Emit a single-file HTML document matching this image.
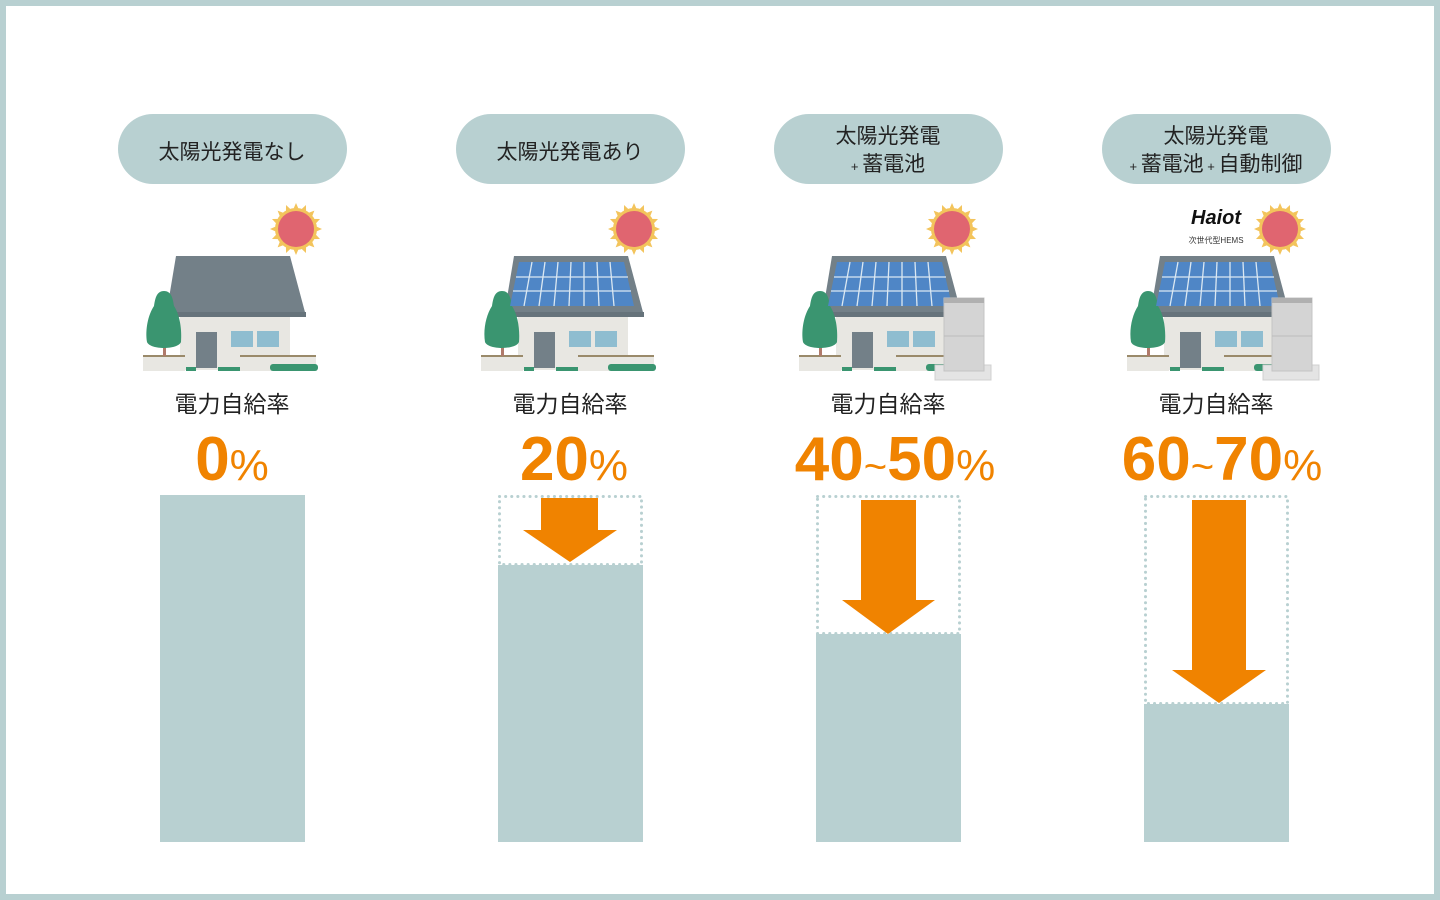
<!DOCTYPE html>
<html><head><meta charset="utf-8"><style>
html,body{margin:0;padding:0;width:1440px;height:900px;overflow:hidden;background:#b8d0d1}
svg{display:block}
text{font-family:"Liberation Sans","Noto Sans CJK JP",sans-serif}
</style></head><body>
<svg width="1440" height="900" viewBox="0 0 1440 900" xmlns="http://www.w3.org/2000/svg">
<defs>
<g id="house">
  <path d="M176 256 H290 L306 316 H166 Z" fill="#738088"/>
  <rect x="166" y="312" width="140" height="5" fill="#66737b"/>
  <rect x="180" y="317" width="110" height="53" fill="#e8e7e2"/>
  <rect x="196" y="332" width="21" height="36" fill="#738088"/>
  <rect x="231" y="331" width="22" height="16" fill="#8fbdd0"/>
  <rect x="257" y="331" width="22" height="16" fill="#8fbdd0"/>
  <rect x="143" y="355" width="42" height="16" fill="#e8e7e2"/>
  <rect x="143" y="355" width="42" height="2" fill="#9a8a6a"/>
  <rect x="240" y="355" width="76" height="16" fill="#e8e7e2"/>
  <rect x="240" y="355" width="76" height="2" fill="#9a8a6a"/>
  <rect x="163" y="340" width="3" height="16" fill="#b07a6a"/>
  <path d="M164 291 C172 291 173 300 174 306 C180 315 182 330 181 342 C178 350 150 350 147 342 C145 330 148 315 154 306 C155 300 156 291 164 291Z" fill="#3a9570"/>
  <rect x="270" y="364" width="48" height="7" rx="3" fill="#3a9570"/>
  <rect x="186" y="367" width="10" height="4" fill="#3a9570"/>
  <rect x="218" y="367" width="22" height="4" fill="#3a9570"/>
</g>
<g id="panel">
  <path d="M181 262 H286 L296 306 H172 Z" fill="#4f86c6"/>
  <g stroke="#dbe8f2" stroke-width="1.3">
    <line x1="178" y1="277" x2="290" y2="277"/><line x1="175" y1="291" x2="293" y2="291"/>
    <line x1="194" y1="262" x2="186" y2="306"/><line x1="207" y1="262" x2="201" y2="306"/>
    <line x1="220" y1="262" x2="216" y2="306"/><line x1="233" y1="262" x2="231" y2="306"/>
    <line x1="246" y1="262" x2="246" y2="306"/><line x1="259" y1="262" x2="261" y2="306"/>
    <line x1="272" y1="262" x2="276" y2="306"/>
  </g>
</g>
<g id="ray"><polygon points="0,-26 3.5,-18 -3.5,-18"/></g>
<g id="sun">
  <circle r="21" fill="#f3c45c"/>
  <g fill="#f3c45c">
    <use href="#ray"/><use href="#ray" transform="rotate(22.5)"/><use href="#ray" transform="rotate(45)"/><use href="#ray" transform="rotate(67.5)"/>
    <use href="#ray" transform="rotate(90)"/><use href="#ray" transform="rotate(112.5)"/><use href="#ray" transform="rotate(135)"/><use href="#ray" transform="rotate(157.5)"/>
    <use href="#ray" transform="rotate(180)"/><use href="#ray" transform="rotate(202.5)"/><use href="#ray" transform="rotate(225)"/><use href="#ray" transform="rotate(247.5)"/>
    <use href="#ray" transform="rotate(270)"/><use href="#ray" transform="rotate(292.5)"/><use href="#ray" transform="rotate(315)"/><use href="#ray" transform="rotate(337.5)"/>
  </g>
  <circle r="18" fill="#e06570"/>
</g>
<g id="batt">
  <rect x="935" y="365" width="56" height="15" fill="#e4e4e4" stroke="#d0d0d0"/>
  <rect x="944" y="298" width="40" height="73" fill="#d4d4d4" stroke="#c4c4c4"/>
  <rect x="944" y="298" width="40" height="5" fill="#b0b0b0"/>
  <line x1="944" y1="336" x2="984" y2="336" stroke="#bdbdbd"/>
</g>
</defs>
<rect x="6" y="6" width="1428" height="888" fill="#fff"/>

<g fill="#b8d0d1">
<rect x="118" y="114" width="229" height="70" rx="35"/>
<rect x="456" y="114" width="229" height="70" rx="35"/>
<rect x="774" y="114" width="229" height="70" rx="35"/>
<rect x="1102" y="114" width="229" height="70" rx="35"/>
</g>
<g font-size="21" fill="#222" text-anchor="middle">
<text x="232" y="159">太陽光発電なし</text>
<text x="570" y="159">太陽光発電あり</text>
<text x="888" y="143">太陽光発電</text>
<text x="888" y="171"><tspan font-size="13">+ </tspan>蓄電池</text>
<text x="1216" y="143">太陽光発電</text>
<text x="1216" y="171"><tspan font-size="13">+ </tspan>蓄電池<tspan font-size="13"> + </tspan>自動制御</text>
</g>

<use href="#house"/>
<use href="#sun" x="296" y="229"/>
<use href="#house" x="338"/><use href="#panel" x="338"/>
<use href="#sun" x="634" y="229"/>
<use href="#house" x="656"/><use href="#panel" x="656"/><use href="#batt"/>
<use href="#sun" x="952" y="229"/>
<use href="#house" x="984"/><use href="#panel" x="984"/><use href="#batt" x="328"/>
<use href="#sun" x="1280" y="229"/>
<text x="1216" y="224" font-size="20" font-weight="900" font-style="italic" text-anchor="middle" fill="#111">Haiot</text>
<text x="1216" y="243" font-size="8" text-anchor="middle" fill="#333">次世代型HEMS</text>

<g font-size="23" fill="#222" text-anchor="middle">
<text x="232" y="412">電力自給率</text>
<text x="570" y="412">電力自給率</text>
<text x="888" y="412">電力自給率</text>
<text x="1216" y="412">電力自給率</text>
</g>
<g fill="#f08300" font-weight="bold" text-anchor="middle" font-family="Liberation Sans,sans-serif">
<text x="232" y="480" font-size="62">0<tspan font-size="44" font-weight="normal">%</tspan></text>
<text x="574" y="480" font-size="62">20<tspan font-size="44" font-weight="normal">%</tspan></text>
<text x="895" y="480" font-size="62">40<tspan font-size="40" font-weight="normal">~</tspan>50<tspan font-size="44" font-weight="normal">%</tspan></text>
<text x="1222" y="480" font-size="62">60<tspan font-size="40" font-weight="normal">~</tspan>70<tspan font-size="44" font-weight="normal">%</tspan></text>
</g>

<g fill="#b8d0d1">
<rect x="160" y="495" width="145" height="347"/>
<rect x="498" y="565" width="145" height="277"/>
<rect x="816" y="634" width="145" height="208"/>
<rect x="1144" y="704" width="145" height="138"/>
</g>
<g fill="none" stroke="#b8d0d1" stroke-width="3" stroke-dasharray="0.1 6" stroke-linecap="round">
<rect x="499.5" y="496.5" width="142" height="68"/>
<rect x="817.5" y="496.5" width="142" height="137"/>
<rect x="1145.5" y="496.5" width="142" height="207"/>
</g>
<g fill="#f08300">
<polygon points="541,498 598,498 598,530 617,530 570,562 523,530 541,530"/>
<polygon points="861,500 916,500 916,600 935,600 888,634 842,600 861,600"/>
<polygon points="1192,500 1246,500 1246,670 1266,670 1219,703 1172,670 1192,670"/>
</g>
</svg>
</body></html>
